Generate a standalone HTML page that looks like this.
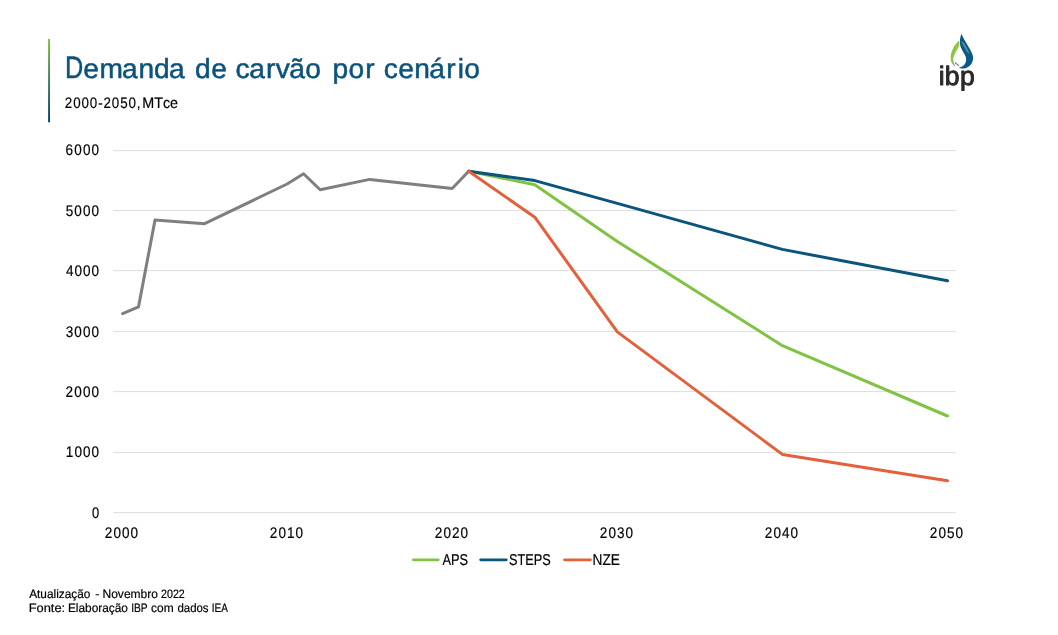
<!DOCTYPE html>
<html lang="pt-BR"><head><meta charset="utf-8"><title>Demanda de carvão por cenário</title>
<style>
html,body{margin:0;padding:0;background:#fff}
body{width:1058px;height:635px;overflow:hidden;position:relative;font-family:"Liberation Sans",sans-serif}
svg{position:absolute;left:0;top:0;display:block}
text{font-family:"Liberation Sans",sans-serif;font-kerning:none;white-space:pre;text-rendering:geometricPrecision}
</style></head><body>
<svg width="1058" height="635" viewBox="0 0 1058 635">
<defs>
<linearGradient id="bar" x1="0" y1="0" x2="0" y2="1"><stop offset="0" stop-color="#7DC23A"/><stop offset="0.92" stop-color="#084876"/><stop offset="1" stop-color="#064573"/></linearGradient>
</defs>
<rect width="1058" height="635" fill="#fff"/>
<rect x="48.1" y="39" width="1.9" height="83.3" fill="url(#bar)"/>
<g id="title" fill="#0B537D" stroke="#0B537D" stroke-width="0.5"><text font-size="31.2" transform="translate(64.92 77.9) scale(0.8117 1)">D</text><text font-size="27.6" transform="translate(0 77.5) scale(1.02 1)" x="81.69 97.54 119.63 135.74 151.02 165.71" y="0">emanda</text> <text font-size="27.6" transform="translate(0 77.5) scale(1.02 1)" x="191.24 207.20" y="0">de</text> <text font-size="27.6" transform="translate(0 77.5) scale(1.02 1)" x="231.01 244.34 260.70 270.45 283.50 299.33" y="0">carvão</text> <text font-size="27.6" transform="translate(0 77.5) scale(1.02 1)" x="325.86 341.69 358.15" y="0">por</text> <text font-size="27.6" transform="translate(0 77.5) scale(1.02 1)" x="376.11 390.34 406.18 420.81 437.41 448.71 455.12" y="0">cenário</text></g>
<g id="sub" fill="#000" stroke="#000" stroke-width="0.18"><text font-size="15.2" transform="translate(64.83 107.8) scale(0.8800 1)" letter-spacing="1.022">2000-2050,</text> <text font-size="15.2" transform="translate(142.22 107.8) scale(0.9452 1)">MTce</text></g>
<g stroke="#DDDDDD" stroke-width="1"><line x1="113.2" x2="956" y1="512.6" y2="512.6"/><line x1="113.2" x2="956" y1="452.6" y2="452.6"/><line x1="113.2" x2="956" y1="391.6" y2="391.6"/><line x1="113.2" x2="956" y1="331.6" y2="331.6"/><line x1="113.2" x2="956" y1="270.6" y2="270.6"/><line x1="113.2" x2="956" y1="210.6" y2="210.6"/><line x1="113.2" x2="956" y1="150.6" y2="150.6"/></g>
<g fill="#000" stroke="#000" stroke-width="0.18"><text font-size="15.4" transform="translate(65.51 154.9) scale(0.8800 1)" letter-spacing="1.314">6000</text> <text font-size="15.4" transform="translate(65.66 215.9) scale(0.8800 1)" letter-spacing="1.259">5000</text> <text font-size="15.4" transform="translate(65.89 275.9) scale(0.8800 1)" letter-spacing="1.171">4000</text> <text font-size="15.4" transform="translate(65.68 336.9) scale(0.8800 1)" letter-spacing="1.249">3000</text> <text font-size="15.4" transform="translate(65.52 396.9) scale(0.8800 1)" letter-spacing="1.312">2000</text> <text font-size="15.4" transform="translate(65.87 456.9) scale(0.8800 1)" letter-spacing="1.179">1000</text> <text font-size="15.4" transform="translate(91.89 517.9) scale(0.8422 1)">0</text>
<text font-size="15.4" transform="translate(104.82 537.9) scale(0.8800 1)" letter-spacing="1.198">2000</text> <text font-size="15.4" transform="translate(269.82 537.9) scale(0.8800 1)" letter-spacing="1.198">2010</text> <text font-size="15.4" transform="translate(434.82 537.9) scale(0.8800 1)" letter-spacing="1.198">2020</text> <text font-size="15.4" transform="translate(599.82 537.9) scale(0.8800 1)" letter-spacing="1.198">2030</text> <text font-size="15.4" transform="translate(764.82 537.9) scale(0.8800 1)" letter-spacing="1.198">2040</text> <text font-size="15.4" transform="translate(929.82 537.9) scale(0.8800 1)" letter-spacing="1.198">2050</text></g>
<g fill="none" stroke-width="3" stroke-linecap="round" stroke-linejoin="round">
<polyline stroke="#7F7F7F" points="122.6,313.7 138.5,306.9 155.0,220.1 204.6,223.7 287.1,184.0 303.6,173.7 320.1,189.8 369.7,179.4 452.2,188.5 468.7,171.3"/>
<polyline stroke="#80C342" points="468.7,171.3 534.8,184.7 617.3,241.4 782.4,345.7 947.5,416.0"/>
<polyline stroke="#0A547D" points="468.7,171.3 534.8,180.6 617.3,203.4 782.4,249.4 947.5,280.7"/>
<polyline stroke="#E4603A" points="468.7,171.3 534.8,217.2 617.3,331.9 782.4,454.4 947.5,480.8"/>
</g>
<path fill="#80C342" d="M413.40,558.47H438.20A1.4,1.4 0 0 1 438.20,561.27H413.40A1.4,1.4 0 0 1 413.40,558.47Z"/><path fill="#0A547D" d="M480.70,558.47H506.30A1.4,1.4 0 0 1 506.30,561.27H480.70A1.4,1.4 0 0 1 480.70,558.47Z"/><path fill="#E4603A" d="M564.50,558.47H590.40A1.4,1.4 0 0 1 590.40,561.27H564.50A1.4,1.4 0 0 1 564.50,558.47Z"/>
<g fill="#000" stroke="#000" stroke-width="0.2"><text font-size="15.7" transform="translate(442.38 564.8) scale(0.8153 1)">APS</text> <text font-size="15.7" transform="translate(508.92 564.8) scale(0.8113 1)">STEPS</text> <text font-size="15.7" transform="translate(592.58 564.8) scale(0.8730 1)">NZE</text></g>
<g fill="#000" stroke="#000" stroke-width="0.2"><text font-size="12.2" transform="translate(29.18 597.8) scale(0.9722 1)">Atualização</text> <text font-size="12.2" transform="translate(95.15 597.8) scale(1.0072 1)">-</text> <text font-size="12.2" transform="translate(102.51 597.8) scale(0.9861 1)">Novembro</text> <text font-size="12.2" transform="translate(161.06 597.8) scale(0.8760 1)">2022</text>
<text font-size="12.2" transform="translate(28.64 611.7) scale(1.0563 1)">Fonte:</text> <text font-size="12.2" transform="translate(67.93 611.7) scale(0.9733 1)">Elaboração</text> <text font-size="12.2" transform="translate(131.16 611.7) scale(0.8382 1)">IBP</text> <text font-size="12.2" transform="translate(151.09 611.7) scale(0.9804 1)">com</text> <text font-size="12.2" transform="translate(177.42 611.7) scale(0.9385 1)">dados</text> <text font-size="12.2" transform="translate(211.68 611.7) scale(0.8210 1)">IEA</text></g>
<g id="logo">
<path fill="#0B5A85" d="M961.50,33.78 C961.50,33.78 962.40,35.83 962.95,36.93 C963.51,38.03 964.16,39.19 964.84,40.39 C965.52,41.60 966.31,42.91 967.05,44.17 C967.78,45.43 968.57,46.75 969.25,47.95 C969.93,49.16 970.59,50.26 971.14,51.42 C971.70,52.57 972.27,53.83 972.59,54.88 C972.92,55.93 973.07,56.72 973.09,57.72 C973.12,58.71 973.01,59.82 972.72,60.87 C972.42,61.92 971.96,63.09 971.33,64.02 C970.70,64.94 969.81,65.76 968.94,66.41 C968.07,67.06 967.06,67.56 966.10,67.92 C965.15,68.28 964.15,68.51 963.20,68.55 C962.26,68.59 961.28,68.37 960.43,68.17 C959.58,67.97 958.10,67.35 958.10,67.35 C958.10,67.35 959.89,67.18 960.75,66.91 C961.61,66.65 962.50,66.42 963.27,65.78 C964.03,65.14 964.87,63.99 965.35,63.07 C965.82,62.15 966.03,61.23 966.10,60.24 C966.18,59.24 966.05,58.08 965.79,57.09 C965.52,56.09 965.00,55.20 964.53,54.25 C964.06,53.31 963.48,52.36 962.95,51.42 C962.43,50.47 961.82,49.53 961.38,48.58 C960.94,47.64 960.55,46.75 960.31,45.75 C960.07,44.75 959.96,43.75 959.93,42.60 C959.90,41.44 959.98,39.92 960.12,38.82 C960.25,37.72 960.52,36.82 960.75,35.98 C960.98,35.14 961.50,33.78 961.50,33.78Z"/>
<path fill="#8CC63F" d="M958.98,40.39 C958.98,40.39 957.41,42.02 956.65,42.91 C955.90,43.81 955.08,44.75 954.45,45.75 C953.82,46.75 953.35,47.85 952.87,48.90 C952.40,49.95 951.96,51.00 951.61,52.05 C951.27,53.10 950.95,54.15 950.80,55.20 C950.64,56.25 950.61,57.30 950.67,58.35 C950.73,59.40 950.90,60.60 951.17,61.50 C951.45,62.39 951.87,63.05 952.31,63.70 C952.75,64.35 953.28,64.93 953.82,65.40 C954.35,65.87 955.52,66.54 955.52,66.54 C955.52,66.54 954.64,64.80 954.32,64.02 C954.01,63.23 953.81,62.76 953.63,61.81 C953.45,60.87 953.14,59.45 953.25,58.35 C953.37,57.24 953.91,56.25 954.32,55.20 C954.73,54.15 955.16,53.10 955.71,52.05 C956.25,51.00 957.07,49.95 957.60,48.90 C958.12,47.85 958.57,46.75 958.86,45.75 C959.14,44.75 959.28,43.81 959.30,42.91 C959.32,42.02 958.98,40.39 958.98,40.39Z"/>
<line x1="955.3" y1="62.9" x2="958.6" y2="65.4" stroke="#1D6C97" stroke-width="1.1" stroke-linecap="round" opacity="0.85"/>
<g stroke="#A9CBDD" stroke-width="0.6" stroke-linecap="round" opacity="0.85"><line x1="962.00" y1="42.10" x2="967.60" y2="51.90"/><line x1="963.50" y1="42.90" x2="969.00" y2="53.00"/></g>
<g font-size="26.6" fill="#2A2A2A" stroke="#2A2A2A" stroke-width="0.9" stroke-linejoin="round"><text x="938.8 944.7 960.1" y="84.9">ibp</text></g>
</g>
</svg>
</body></html>
